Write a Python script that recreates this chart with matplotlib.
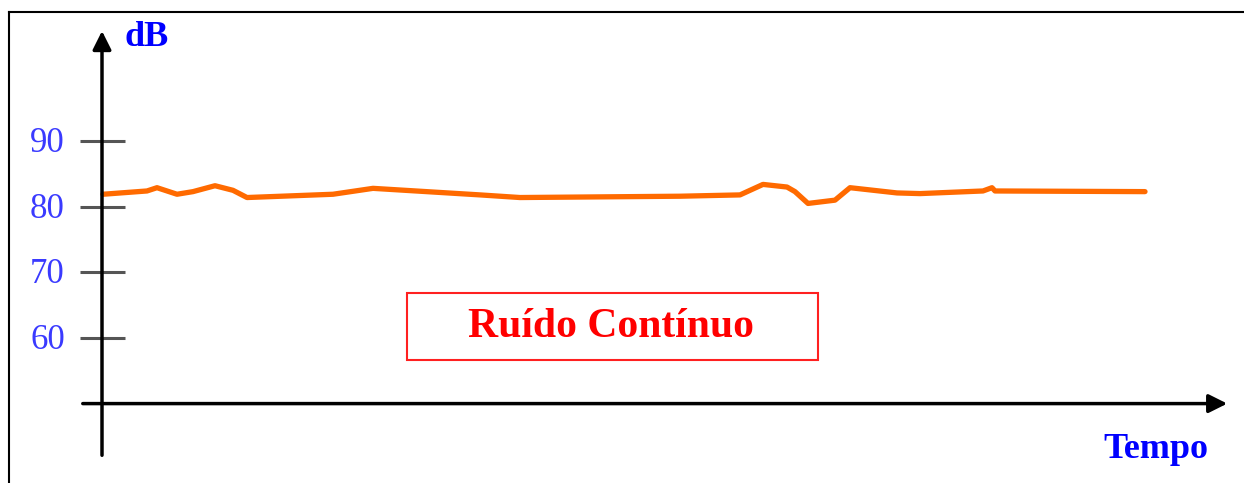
import matplotlib.pyplot as plt
from matplotlib.patches import Rectangle

# noise level readings (time in arbitrary units, level in dB)
tempo = [0.1, 4.5, 5.5, 7.5, 9.1, 11.3, 13.1, 14.5, 23.1, 27.1, 37.8, 41.8,
         57.8, 63.8, 66.1, 68.5, 69.3, 70.6, 73.3, 74.8, 79.5, 81.8, 88.1,
         89.0, 89.3, 104.3]
nivel = [81.9, 82.4, 82.9, 81.9, 82.3, 83.2, 82.5, 81.4, 81.9, 82.8, 81.8, 81.4,
         81.6, 81.8, 83.4, 83.0, 82.3, 80.5, 81.0, 82.9, 82.1, 82.0, 82.4,
         82.9, 82.4, 82.3]
yTicks = [60, 70, 80, 90]

SERIF = ['Liberation Serif', 'DejaVu Serif']

fig = plt.figure(figsize=(12.44, 4.83), dpi=100)
ax = fig.add_axes([0, 0, 1, 1])
ax.set_xlim(-10.2, 114.2)
ax.set_ylim(37.9, 111.5)
ax.axis('off')

# frame: only top and left edges are visible
ax.plot([-9.3, 114.2], [109.6, 109.6], color='black', lw=1.5)
ax.plot([-9.3, -9.3], [37.9, 109.6], color='black', lw=1.5)

# axes with arrows
ax.annotate('', xy=(0, 107.2), xytext=(0, 41.7),
            arrowprops=dict(arrowstyle='-|>', lw=2.5, color='black', mutation_scale=28))
ax.annotate('', xy=(112.8, 50), xytext=(-2.2, 50),
            arrowprops=dict(arrowstyle='-|>', lw=2.5, color='black', mutation_scale=28))

for v in yTicks:
    ax.plot([-2.2, 2.3], [v, v], color='#555555', lw=2.2, solid_capstyle='butt')
    ax.text(-3.7, v - 0.4, str(v), ha='right', va='center', fontsize=25,
            color='#3a3aff', family=SERIF)

ax.plot(tempo, nivel, color='#ff6a00', lw=3.8, solid_joinstyle='round',
        solid_capstyle='round')

ax.text(2.3, 105.8, 'dB', ha='left', va='center', fontsize=26,
        fontweight='bold', color='#0000ff', family=SERIF)
ax.text(100.1, 41.7, 'Tempo', ha='left', va='baseline', fontsize=26,
        fontweight='bold', color='#0000ff', family=SERIF)

ax.add_patch(Rectangle((30.5, 56.6), 41.1, 10.2, fill=False,
                       edgecolor='#ff2020', lw=1.5))
ax.text(50.9, 60.2, 'Ruído Contínuo', ha='center', va='baseline', fontsize=30,
        fontweight='bold', color='#ff0000', family=SERIF)

fig.savefig('out.png', dpi=100)
